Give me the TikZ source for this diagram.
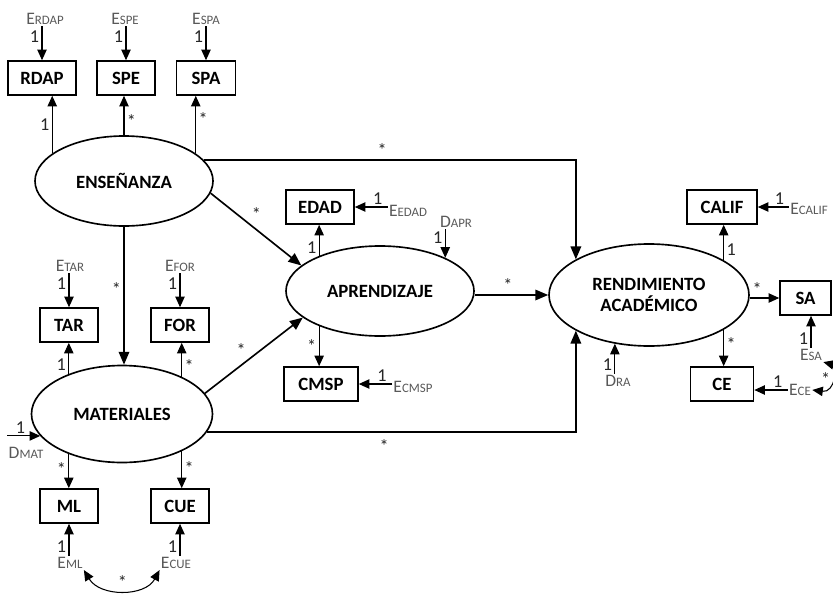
\documentclass[tikz,border=0pt]{standalone}
\usepackage{fontspec}
\setmainfont{Carlito}
\usetikzlibrary{positioning, arrows.meta, shapes.geometric}

\newcommand{\sublab}[2]{#1{\fontsize{11}{12}\selectfont #2}}

\begin{document}
\begin{tikzpicture}[
    x=0.3mm, y=-0.3mm,
    >={Triangle[length=9pt, width=8pt]},
    latent/.style={draw, ellipse, line width=1.4pt, inner sep=0pt, align=center, font=\fontsize{16}{18.5}\selectfont\bfseries},
    obsbox/.style={draw, rectangle, line width=1.4pt, minimum height=10.2mm, inner sep=0pt, font=\fontsize{16}{18.5}\selectfont\bfseries},
    errlbl/.style={inner sep=1pt, text=black!65, font=\fontsize{15}{16}\selectfont},
    num/.style={inner sep=2pt, text=black!85, font=\fontsize{15.5}{17}\selectfont},
    mainarrow/.style={-{Triangle[length=11pt, width=9pt]}, line width=1.4pt},
    loadarrow/.style={->, line width=0.9pt},
    covarrow/.style={<->, line width=0.9pt}
]

% tamaño fijo del lienzo
\useasboundingbox (0,0) rectangle (833,593);

% Enseñanza y sus indicadores
\node[latent, minimum width=53.4mm, minimum height=27mm] (ens) at (124,181) {ENSEÑANZA};
\node[obsbox, minimum width=20.4mm] (rdap) at (42,78) {RDAP};
\node[obsbox, minimum width=17.4mm] (spe) at (126,78) {SPE};
\node[obsbox, minimum width=17.7mm] (spa) at (206,78) {SPA};
\node[errlbl] (eRDAP) at (45,19) {\sublab{E}{RDAP}};
\node[errlbl] (eSPE) at (125,19) {\sublab{E}{SPE}};
\node[errlbl] (eSPA) at (206,19) {\sublab{E}{SPA}};
\draw[loadarrow] (rdap.north |- eRDAP.south) -- node[num, left, pos=.3] {1} (rdap.north);
\draw[loadarrow] (spe.north |- eSPE.south) -- node[num, left, pos=.3] {1} (spe.north);
\draw[loadarrow] (spa.north |- eSPA.south) -- node[num, left, pos=.3] {1} (spa.north);
\draw[loadarrow] (ens.159) -- node[num, left] {1} (ens.159 |- rdap.south);
\draw[loadarrow] (ens.north) -- node[num, right, pos=.35] {*} (ens.north |- spe.south);
\draw[loadarrow] (ens.21) -- node[num, right, pos=.6] {*} (ens.21 |- spa.south);

% Materiales y sus indicadores
\node[latent, minimum width=54.3mm, minimum height=29.1mm] (mat) at (122,414) {MATERIALES};
\node[obsbox, minimum width=17.4mm] (tar) at (69,325) {TAR};
\node[obsbox, minimum width=17.4mm] (for) at (180,325) {FOR};
\node[obsbox, minimum width=17.4mm] (ml) at (69,506) {ML};
\node[obsbox, minimum width=17.4mm] (cue) at (180,506) {CUE};
\node[errlbl] (eTAR) at (70,266) {\sublab{E}{TAR}};
\node[errlbl] (eFOR) at (180,266) {\sublab{E}{FOR}};
\node[errlbl] (eML) at (70,563) {\sublab{E}{ML}};
\node[errlbl] (eCUE) at (176,563) {\sublab{E}{CUE}};
\node[errlbl] (dMAT) at (26,453) {\sublab{D}{MAT}};
\draw[loadarrow] (tar.north |- eTAR.south) -- node[num, left, pos=.3] {1} (tar.north);
\draw[loadarrow] (for.north |- eFOR.south) -- node[num, left, pos=.3] {1} (for.north);
\draw[loadarrow] (mat.143) -- node[num, left, pos=.3] {1} (mat.143 |- tar.south);
\draw[loadarrow] (mat.32) -- node[num, right, pos=.3] {*} (mat.32 |- for.south);
\draw[loadarrow] (mat.217) -- node[num, left, pos=.45] {*} (mat.217 |- ml.north);
\draw[loadarrow] (mat.328) -- node[num, right, pos=.45] {*} (mat.328 |- cue.north);
\draw[loadarrow] (ml.south |- eML.north) -- node[num, left, pos=.3] {1} (ml.south);
\draw[loadarrow] (cue.south |- eCUE.north) -- node[num, left, pos=.3] {1} (cue.south);
\draw[loadarrow] (dMAT.west |- mat.195) -- node[num, above, pos=.4] {1} (mat.195);
\draw[covarrow] (eML.south east) .. controls (100,597) and (145,597) .. node[num, above=-1pt] {*} (eCUE.south west);

% Aprendizaje
\node[latent, minimum width=56.4mm, minimum height=27mm] (apr) at (380,291) {APRENDIZAJE};
\node[obsbox, minimum width=20.4mm] (edad) at (320,207) {EDAD};
\node[obsbox, minimum width=22.2mm] (cmsp) at (321,384) {CMSP};
\node[errlbl] (eEDAD) at (408,211) {\sublab{E}{EDAD}};
\node[errlbl] (eCMSP) at (413,387) {\sublab{E}{CMSP}};
\node[errlbl] (dAPR) at (456,222) {\sublab{D}{APR}};
\draw[loadarrow] (apr.150) -- node[num, left, pos=.25] {1} (apr.150 |- edad.south);
\draw[loadarrow] (apr.210) -- node[num, left, pos=.5] {*} (apr.210 |- cmsp.north);
\draw[loadarrow] (eEDAD.west |- edad.east) -- node[num, above, pos=.3] {1} (edad.east);
\draw[loadarrow] (eCMSP.west |- cmsp.east) -- node[num, above, pos=.3] {1} (cmsp.east);
\draw[loadarrow] (apr.27 |- dAPR.south) -- node[num, left, pos=.3] {1} (apr.27);

% Rendimiento académico
\node[latent, minimum width=60mm, minimum height=30.6mm] (ra) at (649,295) {RENDIMIENTO\\ACADÉMICO};
\node[obsbox, minimum width=21mm] (calif) at (722,207) {CALIF};
\node[obsbox, minimum width=15.3mm] (sa) at (805.5,298) {SA};
\node[obsbox, minimum width=18.9mm] (ce) at (722,384) {CE};
\node[errlbl] (eCALIF) at (809,209) {\sublab{E}{CALIF}};
\node[errlbl] (eSA) at (811,355) {\sublab{E}{SA}};
\node[errlbl] (eCE) at (800,390) {\sublab{E}{CE}};
\node[errlbl] (dRA) at (618,381) {\sublab{D}{RA}};
\draw[loadarrow] (ra.25) -- node[num, right, pos=.3] {1} (ra.25 |- calif.south);
\draw[loadarrow] (ra.335) -- node[num, right, pos=.4] {*} (ra.335 |- ce.north);
\draw[loadarrow] (ra.east |- sa.west) -- node[num, above, pos=.25] {*} (sa.west);
\draw[loadarrow] (eCALIF.west |- calif.east) -- node[num, above, pos=.3] {1} (calif.east);
\draw[loadarrow] (eSA.north) -- node[num, left, pos=.3] {1} (eSA.north |- sa.south);
\draw[loadarrow] (eCE.west) -- node[num, above, pos=.3] {1} (eCE.west -| ce.east);
\draw[loadarrow] (ra.235 |- dRA.north) -- node[num, left, pos=.3] {1} (ra.235);
\draw[covarrow] (eSA.south east) .. controls (838,366) and (835,393) .. node[num, left=-1pt] {*} (eCE.east);

% Relaciones estructurales
\draw[mainarrow] (ens.15) -| node[num, above, pos=.24] {*} (ra.154);
\draw[mainarrow] (mat.348) -| node[num, below=4pt, pos=.24] {*} (ra.206);
\draw[mainarrow] (ens.-8) -- node[num, above right, pos=.42] {*} (apr.162);
\draw[mainarrow] (mat.14) -- node[num, above left, pos=.45] {*} (apr.199);
\draw[mainarrow] (ens.south) -- node[num, left, pos=.45] {*} (ens.south |- mat.north);
\draw[mainarrow] (apr.east |- ra.west) -- node[num, above, pos=.45] {*} (ra.west);

\end{tikzpicture}
\end{document}
